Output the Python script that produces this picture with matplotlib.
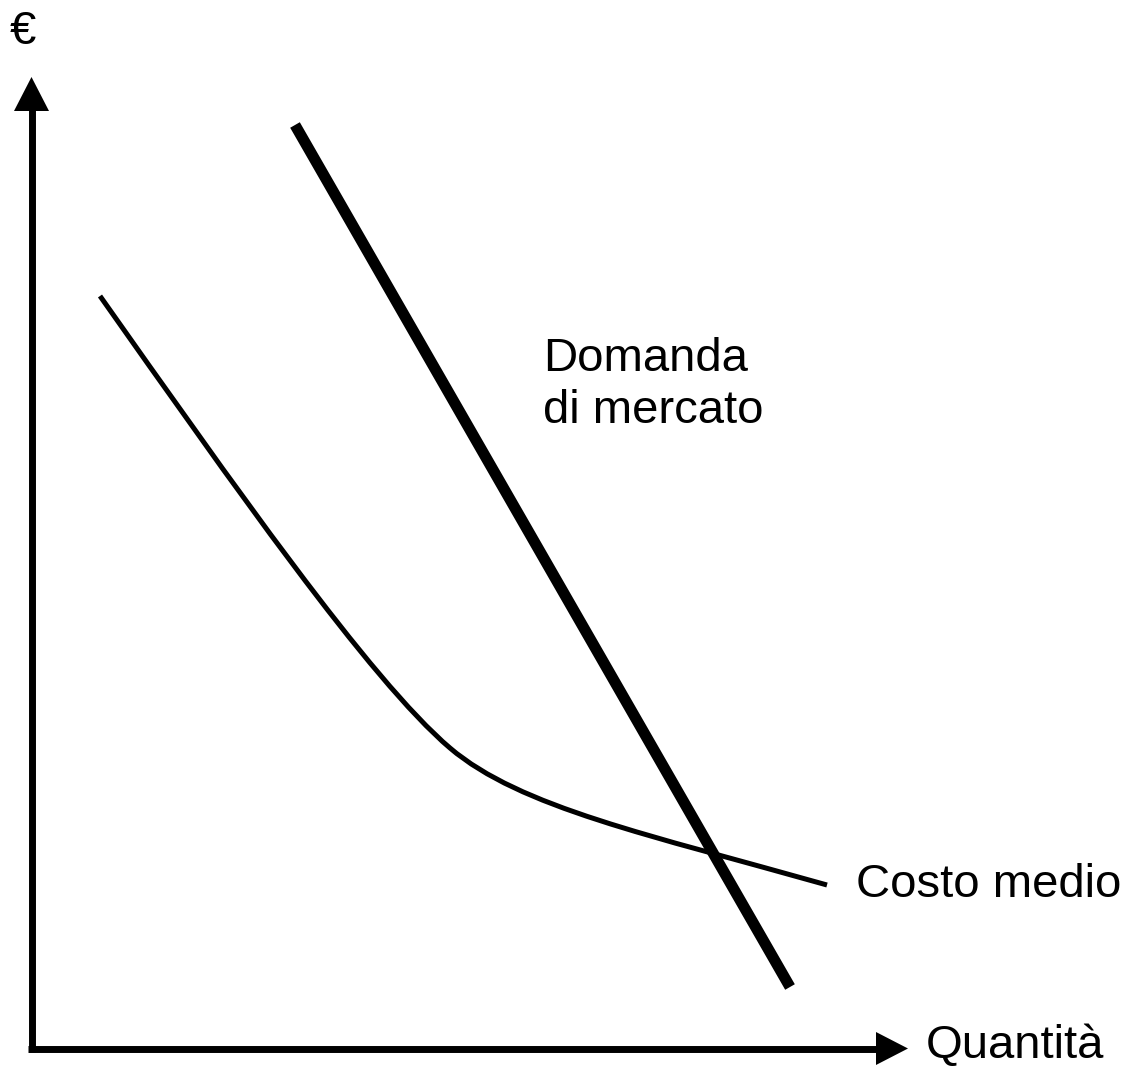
import matplotlib
matplotlib.use('Agg')
import matplotlib.pyplot as plt
from matplotlib.path import Path
from matplotlib.patches import PathPatch

# posizioni (pixel, y verso il basso)
domanda_x = [295, 790]
domanda_y = [125, 987]

# costo medio: due curve di Bezier cubiche (punti di controllo)
costo_x = [100, 230, 370, 450, 520, 650, 827]
costo_y = [296, 480, 680, 748, 807.5, 835, 885]

plt.rcParams['font.family'] = ['Liberation Sans', 'DejaVu Sans']

fig = plt.figure(figsize=(11.32, 10.70), dpi=100)
ax = fig.add_axes([0, 0, 1, 1])
ax.set_xlim(0, 1132)
ax.set_ylim(1070, 0)
ax.axis('off')

# assi con frecce
ax.plot([31.5, 31.5], [1052, 105], color='black', lw=5, solid_capstyle='butt')
ax.plot([28, 880], [1048.5, 1048.5], color='black', lw=5, solid_capstyle='butt')
ax.fill([31.5, 14, 49], [77, 111, 111], color='black', lw=0)
ax.fill([908, 876, 876], [1048.5, 1032, 1065], color='black', lw=0)

ax.plot(domanda_x, domanda_y, color='black', lw=8, solid_capstyle='butt')

codes = [Path.MOVETO] + [Path.CURVE4] * 6
costo = Path(list(zip(costo_x, costo_y)), codes)
ax.add_patch(PathPatch(costo, facecolor='none', edgecolor='black', lw=3.6, capstyle='butt'))

fs = 34
ax.text(10, 32, '€', fontsize=fs, ha='left', va='center')
ax.text(543, 385, 'Domanda\ndi mercato', fontsize=fs, ha='left', va='center', linespacing=1.22)
ax.text(856, 885, 'Costo medio', fontsize=fs, ha='left', va='center')
ax.text(926, 1046, 'Quantità', fontsize=fs, ha='left', va='center')

plt.savefig('out.png', dpi=100)
